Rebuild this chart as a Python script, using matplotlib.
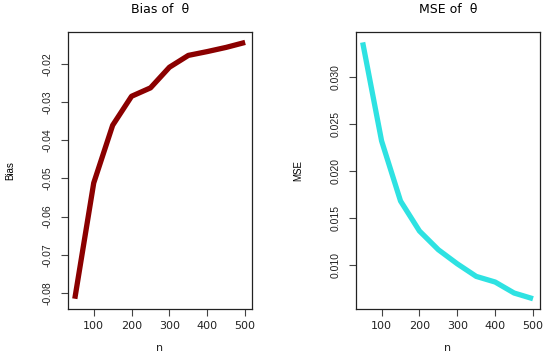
import matplotlib
matplotlib.use("Agg")
import matplotlib.pyplot as plt

# sample sizes and simulated results
n = [50, 100, 150, 200, 250, 300, 350, 400, 450, 500]
bias = [-0.0815, -0.0512, -0.0361, -0.0285, -0.0263, -0.0209, -0.0178, -0.0168, -0.0157, -0.0144]
mse = [0.0337, 0.0232, 0.0168, 0.0136, 0.0116, 0.0101, 0.00876, 0.00816, 0.00699, 0.00638]

bias_ticks = [-0.08, -0.07, -0.06, -0.05, -0.04, -0.03, -0.02]
mse_ticks = [0.010, 0.015, 0.020, 0.025, 0.030]
n_ticks = [100, 200, 300, 400, 500]

plt.rcParams['font.family'] = ['DejaVu Sans']
narrow = ['Liberation Sans Narrow', 'Liberation Sans', 'DejaVu Sans']

fig = plt.figure(figsize=(5.5, 3.6), dpi=100)
ax1 = fig.add_axes([0.1236, 0.1417, 0.3345, 0.769])
ax2 = fig.add_axes([0.647, 0.1417, 0.3345, 0.769])


def r_style(ax, yvals, yticks, fmt):
    ax.set_xlim(32, 518)
    span = max(yvals) - min(yvals)
    ax.set_ylim(min(yvals) - 0.04 * span, max(yvals) + 0.04 * span)
    ax.set_xticks(n_ticks)
    ax.set_xticklabels([str(t) for t in n_ticks], fontsize=8, color='#222222')
    ax.set_yticks(yticks)
    ax.set_yticklabels([fmt % t for t in yticks], rotation=90, va='center',
                       fontsize=7.5, family=narrow, color='#222222')
    ax.tick_params(axis='x', length=5, width=0.8, color='#444444', pad=4)
    ax.tick_params(axis='y', length=5, width=0.8, color='#444444', pad=6)
    for s in ax.spines.values():
        s.set_linewidth(0.9)
        s.set_color('#222222')
    ax.set_xlabel('n', fontsize=8, labelpad=8, color='#222222')


ax1.plot(n, bias, color='#8B0000', lw=3.8, solid_capstyle='butt')
r_style(ax1, bias, bias_ticks, '%.2f')
ax1.set_ylabel('Bias', fontsize=7, family=narrow, labelpad=20)
ax1.set_title('Bias of  θ', fontsize=9, pad=14)

ax2.plot(n, mse, color='#2EE2E2', lw=3.8, solid_capstyle='butt')
r_style(ax2, mse, mse_ticks, '%.3f')
ax2.set_ylabel('MSE', fontsize=7, family=narrow, labelpad=20)
ax2.set_title('MSE of  θ', fontsize=9, pad=14)

fig.savefig('out.png', dpi=100)
